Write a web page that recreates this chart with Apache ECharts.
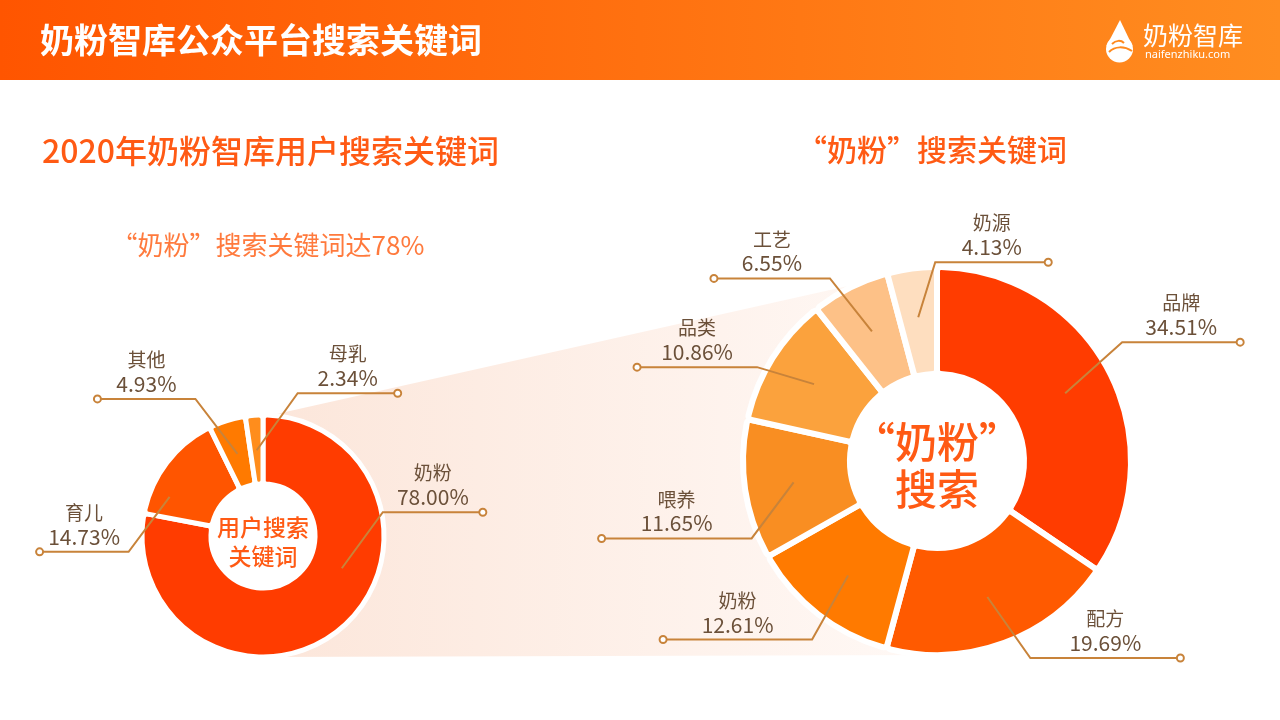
<!DOCTYPE html>
<html>
<head>
<meta charset="utf-8">
<script src="https://cdn.jsdelivr.net/npm/echarts@6/dist/echarts.min.js"></script>
<style>
html,body{margin:0;padding:0;background:#fff;}
#c{width:1280px;height:720px;}
</style>
</head>
<body>
<div id="c"></div>
<script>
// ---- data ----
const leftNames = ['奶粉', '育儿', '其他', '母乳'];
const leftValues = [78.00, 14.73, 4.93, 2.34];
const rightNames = ['品牌', '配方', '奶粉', '喂养', '品类', '工艺', '奶源'];
const rightValues = [34.51, 19.69, 12.61, 11.65, 10.86, 6.55, 4.13];

// ---- styles / layout ----
const leftColors = ['#FF3C00', '#FF5500', '#FF7A00', '#FF8D1C'];
const rightColors = ['#FF3C00', '#FF5A00', '#FF7A00', '#F98E22', '#FBA23D', '#FDC187', '#FEDEBF'];
// leader line layout: [shiftX, shiftY, bendDX, bendDY, horizontalLength]
const leftLeaders = [[24, -34, 41, -56, 100], [-25, 13, -41, 55, -89], [0, 0, -42, -55, -98], [0, 0, 41, -57, 100]];
const rightLeaders = [[0, 0, 57, -51, 118], [0, 0, 43, 61, 150], [0, 0, -36, 64, -149], [0, 0, -42, 56, -150], [0, 0, -57, -17, -120], [0, 0, -42, -53, -116], [0, 0, 17, -55, 113]];

const FONT = '"Noto Sans CJK SC", "Noto Sans", sans-serif';
const LINE = '#C8833A';
const TEXT = '#6B5039';
const ORANGE = '#FF5A14';

function leaderGeom(p, leaders) {
  const L = leaders[p.dataIndex];
  const p0 = p.labelLinePoints[0];
  const s = [p0[0] + L[0], p0[1] + L[1]];
  const b = [s[0] + L[2], s[1] + L[3]];
  const e = [b[0] + L[4], b[1]];
  return { s, b, e };
}

function buildPie(names, values, colors, leaders, center, rIn, rOut, rLabel, gap, centerText, centerSize, centerLH, centerDY) {
  const data = names.map((n, i) => ({ name: n, value: values[i] }));
  const common = {
    type: 'pie', center: center, startAngle: 90, clockwise: true, silent: true,
    avoidLabelOverlap: false, animation: false, emphasis: { disabled: true }
  };
  return [
    Object.assign({}, common, {
      radius: [rIn, rOut], z: 2,
      label: { show: false }, labelLine: { show: false },
      itemStyle: { color: p => colors[p.dataIndex], borderColor: '#fff', borderWidth: gap, borderRadius: 4 },
      data: data
    }),
    Object.assign({}, common, {
      radius: [0, rIn], z: 3,
      label: {
        show: true, position: 'center', formatter: centerText, offset: [0, centerDY],
        color: ORANGE, fontSize: centerSize, lineHeight: centerLH, fontFamily: FONT, fontWeight: 500
      },
      labelLine: { show: false },
      itemStyle: { color: '#fff' },
      data: [{ name: '', value: 1 }]
    }),
    Object.assign({}, common, {
      radius: [0, rLabel], z: 4,
      itemStyle: { color: 'rgba(0,0,0,0)' },
      label: {
        show: true, position: 'outside',
        formatter: p => '{n|' + p.name + '}\n{p|' + p.value.toFixed(2) + '%}',
        rich: {
          n: { fontSize: 19, lineHeight: 24, color: TEXT, fontFamily: FONT, align: 'center' },
          p: { fontSize: 21, lineHeight: 24, color: TEXT, fontFamily: FONT, align: 'center' }
        }
      },
      labelLine: { show: true, length: 20, length2: 20, lineStyle: { color: LINE, width: 2 } },
      labelLayout: p => {
        const g = leaderGeom(p, leaders);
        return { x: (g.b[0] + g.e[0]) / 2, y: g.b[1] - 3, align: 'center', verticalAlign: 'bottom', labelLinePoints: [g.s, g.b, g.e] };
      },
      data: data
    }),
    Object.assign({}, common, {
      radius: [0, rLabel], z: 5,
      itemStyle: { color: 'rgba(0,0,0,0)' },
      label: {
        show: true, position: 'outside', formatter: ' ',
        fontSize: 1, lineHeight: 5, width: 5, height: 5, padding: 0,
        backgroundColor: '#fff', borderColor: LINE, borderWidth: 2, borderRadius: 5
      },
      labelLine: { show: true, length: 20, length2: 20, lineStyle: { color: 'rgba(0,0,0,0)', width: 0 } },
      labelLayout: p => {
        const g = leaderGeom(p, leaders);
        return { x: g.e[0], y: g.e[1], align: 'center', verticalAlign: 'middle', labelLinePoints: [g.s, g.b, g.e] };
      },
      data: data
    })
  ];
}

const chart = echarts.init(document.getElementById('c'), null, { renderer: 'canvas' });

const series = [].concat(
  buildPie(leftNames, leftValues, leftColors, leftLeaders, [263, 536], 52, 121, 86, 5, '用户搜索\n关键词', 23, 29, 6),
  buildPie(rightNames, rightValues, rightColors, rightLeaders, [937, 461], 87, 194, 145, 6, '“奶粉”\n搜索', 42, 47, 5)
);

chart.setOption({
  backgroundColor: '#fff',
  animation: false,
  graphic: [
    {
      type: 'polygon', z: 0, silent: true,
      shape: { points: [[263, 417], [937, 266], [937, 655], [263, 657]] },
      style: {
        fill: new echarts.graphic.LinearGradient(263, 0, 937, 0, [
          { offset: 0, color: '#FCE6DA' }, { offset: 1, color: '#FFF9F6' }
        ], true)
      }
    },
    {
      type: 'rect', z: 0, silent: true,
      shape: { x: 0, y: 0, width: 1280, height: 80 },
      style: {
        fill: new echarts.graphic.LinearGradient(0, 0, 1, 0, [
          { offset: 0, color: '#FF5500' }, { offset: 1, color: '#FF8D20' }
        ])
      }
    },
    {
      type: 'text', z: 10, x: 40, y: 40,
      style: { text: '奶粉智库公众平台搜索关键词', fill: '#fff', font: 'bold 34px ' + FONT, align: 'left', verticalAlign: 'middle' }
    },
    {
      type: 'circle', z: 10, silent: true,
      shape: { cx: 1119.5, cy: 49, r: 13.5 },
      style: { fill: '#fff' }
    },
    {
      type: 'polygon', z: 10, silent: true,
      shape: { points: [[1120, 20], [1106.5, 46], [1132.5, 46]] },
      style: { fill: '#fff' }
    },
    {
      type: 'bezierCurve', z: 11, silent: true,
      shape: { x1: 1109, y1: 52, cpx1: 1115, cpy1: 46, cpx2: 1124, cpy2: 46, x2: 1132, y2: 51 },
      style: { fill: 'none', stroke: '#FF8A1E', lineWidth: 2 }
    },
    {
      type: 'bezierCurve', z: 11, silent: true,
      shape: { x1: 1112, y1: 44, cpx1: 1116, cpy1: 40, cpx2: 1121, cpy2: 40, x2: 1124, y2: 43 },
      style: { fill: 'none', stroke: '#FF8A1E', lineWidth: 2 }
    },
    {
      type: 'text', z: 10, x: 1143, y: 35,
      style: { text: '奶粉智库', fill: '#fff', font: '25px ' + FONT, align: 'left', verticalAlign: 'middle' }
    },
    {
      type: 'text', z: 10, x: 1145, y: 55,
      style: { text: 'naifenzhiku.com', fill: '#fff', font: '11px "Noto Sans", sans-serif', align: 'left', verticalAlign: 'middle' }
    },
    {
      type: 'text', z: 10, x: 42, y: 151,
      style: { text: '2020年奶粉智库用户搜索关键词', fill: ORANGE, font: '500 32px ' + FONT, align: 'left', verticalAlign: 'middle' }
    },
    {
      type: 'text', z: 10, x: 268, y: 245,
      style: { text: '“奶粉”搜索关键词达78%', fill: '#FF7A3D', font: '26px ' + FONT, align: 'center', verticalAlign: 'middle' }
    },
    {
      type: 'text', z: 10, x: 932, y: 150,
      style: { text: '“奶粉”搜索关键词', fill: ORANGE, font: '500 30px ' + FONT, align: 'center', verticalAlign: 'middle' }
    }
  ],
  series: series
});
</script>
</body>
</html>
